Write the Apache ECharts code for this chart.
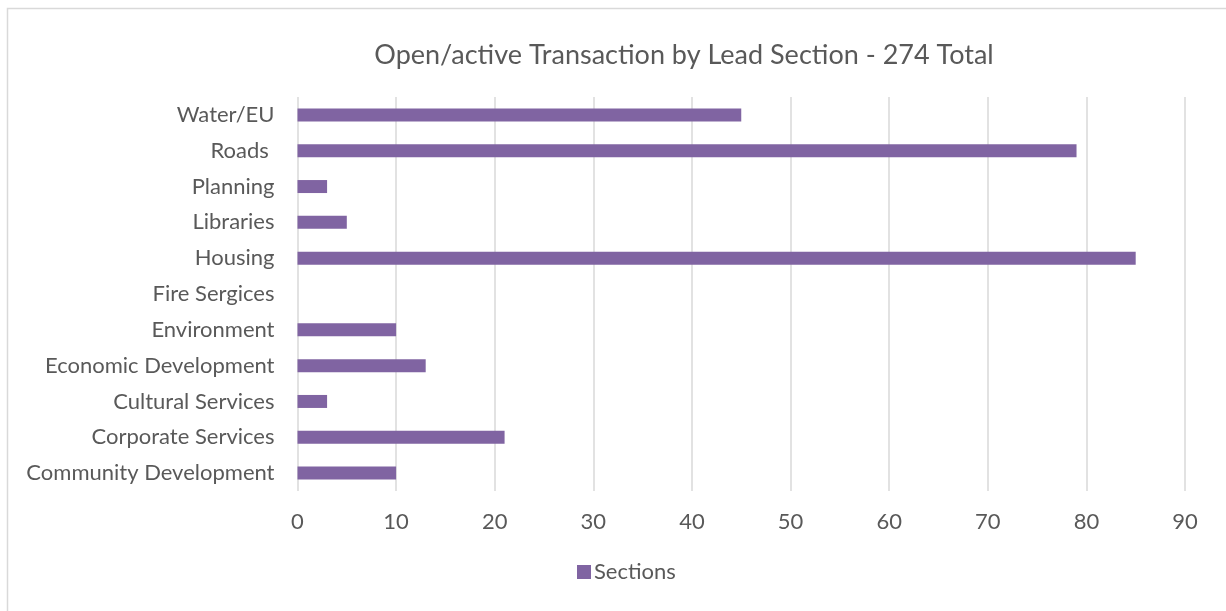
<!DOCTYPE html>
<html><head><meta charset="utf-8">
<script src="https://cdn.jsdelivr.net/npm/echarts@6/dist/echarts.min.js"></script>
<style>html,body{margin:0;padding:0;background:#fff}#c{width:1226px;height:611px}</style>
</head><body><div id="c"></div>
<script>
const categories = ["Community Development","Corporate Services","Cultural Services","Economic Development","Environment","Fire Sergices","Housing","Libraries","Planning","Roads ","Water/EU"];
const sections = [10,21,3,13,10,0,85,5,3,79,45];
const xTicks = {min:0,max:90,interval:10};
const titleText = "Open/active Transaction by Lead Section - 274 Total";
const seriesName = "Sections";

const FONT = "Lato";
const chart = echarts.init(document.getElementById('c'), null, {renderer:'canvas'});
chart.setOption({
  animation:false,
  textStyle:{fontFamily:FONT},
  graphic:[{type:'rect',shape:{x:7.5,y:8.5,width:1240,height:620},style:{fill:'none',stroke:'#d9d9d9',lineWidth:1.5},z:-1}],
  title:{text:titleText,left:679,top:37,textAlign:'center',textStyle:{fontFamily:FONT,fontSize:27,fontWeight:'normal',color:'#595959'}},
  legend:{bottom:23,left:572,itemWidth:14,itemHeight:14,itemGap:6,icon:'rect',
    itemStyle:{borderWidth:0},
    textStyle:{fontFamily:FONT,fontSize:22,color:'#595959',padding:[0,0,0,-2]},data:[seriesName]},
  grid:{left:297.5,right:41,top:97,bottom:120,containLabel:false},
  xAxis:{type:'value',min:xTicks.min,max:xTicks.max,interval:xTicks.interval,
    axisLine:{show:false},axisTick:{show:false},
    axisLabel:{fontFamily:FONT,fontSize:22,color:'#595959',margin:20},
    splitLine:{show:true,lineStyle:{color:'#d9d9d9',width:1.5}}},
  yAxis:{type:'category',data:categories,
    axisLine:{show:false},axisTick:{show:false},
    axisLabel:{fontFamily:FONT,fontSize:22,color:'#595959',margin:23}},
  series:[{name:seriesName,type:'bar',data:sections,barWidth:13,
    itemStyle:{color:'#8064A2',borderWidth:0}}]
});
</script></body></html>
